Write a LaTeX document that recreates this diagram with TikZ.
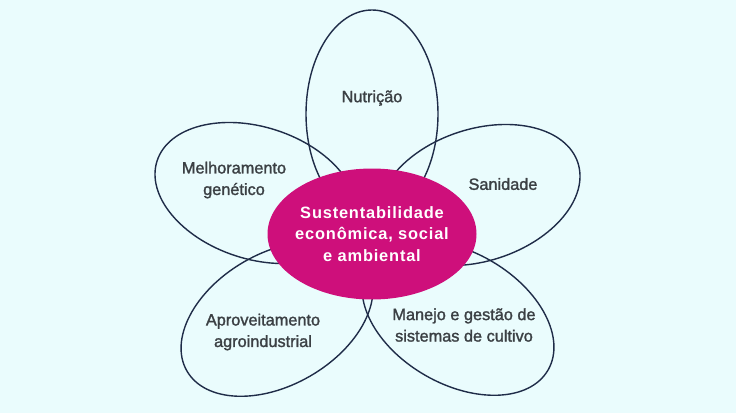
\documentclass[tikz,border=0pt]{standalone}
\usepackage{fontspec}
\usepackage{tikz}
\usetikzlibrary{shapes.geometric}

\newfontfamily\labelfont{Liberation Sans}[FakeBold=1.6]
\newfontfamily\hubfont{Liberation Sans Bold}[LetterSpace=5]

\definecolor{bgcyan}{HTML}{EAFCFD}
\definecolor{petalline}{HTML}{1F2C48}
\definecolor{hubmagenta}{HTML}{CE0F7B}
\definecolor{labelgray}{HTML}{3B4044}

\begin{document}
\begin{tikzpicture}[x=1pt, y=-1pt,
  every node/.style={align=center},
  petal/.style={draw=petalline, line width=1.4pt, ellipse, inner sep=0pt, minimum width=208pt, minimum height=132pt},
  hub/.style  ={fill=hubmagenta, ellipse, inner sep=0pt, minimum width=209pt, minimum height=131pt},
  lbl/.style  ={font=\labelfont\fontsize{16.3}{21.5}\selectfont, text=labelgray},
  hubtxt/.style={font=\hubfont\fontsize{16.4}{21.5}\selectfont, text=white},
]

\fill[bgcyan] (0,0) rectangle (736,413);

% petals
\node[petal, rotate=90]  (nutricao)       at (372,114) {};
\node[petal, rotate=18]  (sanidade)       at (479,195) {};
\node[petal, rotate=-18] (melhoramento)   at (256,193) {};
\node[petal, rotate=-30] (manejo)         at (458,318) {};
\node[petal, rotate=30]  (aproveitamento) at (277,319) {};

% centre
\node[hub] (hub) at (372,234) {};
\node[hubtxt] (hubtext) at (hub.center) {Sustentabilidade\\econômica, social\\e ambiental};

% labels
\node[lbl] (nutricao-txt)       at (372,98)  {Nutrição};
\node[lbl] (sanidade-txt)       at (503,184) {Sanidade};
\node[lbl] (melhoramento-txt)   at (234,180) {Melhoramento\\genético};
\node[lbl] (manejo-txt)         at (464,325) {Manejo e gestão de\\sistemas de cultivo};
\node[lbl] (aproveitamento-txt) at (263,332) {Aproveitamento\\agroindustrial};

\end{tikzpicture}
\end{document}
